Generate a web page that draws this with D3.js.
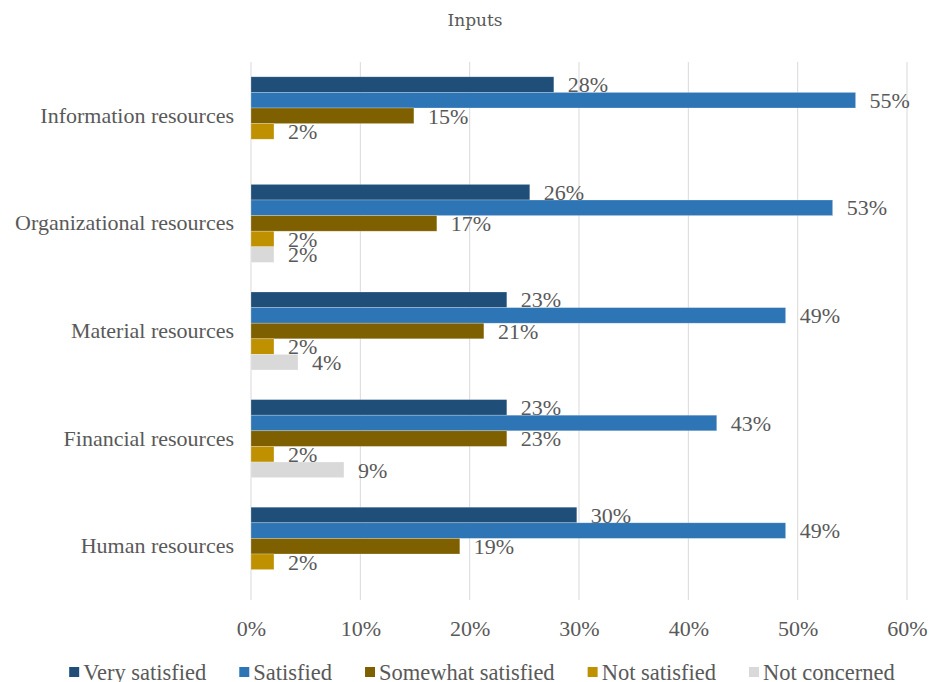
<!DOCTYPE html>
<html>
<head>
<meta charset="utf-8">
<script src="https://cdn.jsdelivr.net/npm/d3@7"></script>
<style>
  body { margin: 0; background: #fff; }
  svg text { font-family: "Liberation Serif", "Times New Roman", serif; fill: #595959; }
</style>
</head>
<body>
<div id="chart"></div>
<script>
const categories = ["Information resources", "Organizational resources", "Material resources", "Financial resources", "Human resources"]
const seriesNames = ["Very satisfied", "Satisfied", "Somewhat satisfied", "Not satisfied", "Not concerned"]
const colors = ["#1f4e79", "#2e75b6", "#7f6000", "#bf9000", "#d9d9d9"]

// values in percent, one array per series (category order as above)
const verySatisfied = [27.7, 25.5, 23.4, 23.4, 29.8]
const satisfied = [55.3, 53.2, 48.9, 42.6, 48.9]
const somewhatSatisfied = [14.9, 17.0, 21.3, 23.4, 19.1]
const notSatisfied = [2.1, 2.1, 2.1, 2.1, 2.1]
const notConcerned = [0, 2.1, 4.3, 8.5, 0]

const xTicks = [0, 10, 20, 30, 40, 50, 60]

const seriesValues = [verySatisfied, satisfied, somewhatSatisfied, notSatisfied, notConcerned]

const W = 932, H = 682
const plot = {left: 251, right: 907, top: 62, bottom: 600}

const svg = d3.select("#chart").append("svg")
    .attr("width", W)
    .attr("height", H)

const x = d3.scaleLinear()
    .domain([0, 60])
    .range([plot.left, plot.right])

const y = d3.scaleBand()
    .domain(categories)
    .range([plot.top, plot.bottom])
    .paddingInner(0.275)
    .paddingOuter(0.1375)

const ySub = d3.scaleBand()
    .domain(seriesNames)
    .range([0, y.bandwidth()])

// title
svg.append("text")
    .attr("x", 475)
    .attr("y", 26)
    .attr("text-anchor", "middle")
    .style("font-family", "'DejaVu Serif', serif")
    .style("font-size", "17px")
    .text("Inputs")

// gridlines
svg.append("g")
    .selectAll("line")
    .data(xTicks)
    .join("line")
    .attr("x1", d => x(d))
    .attr("x2", d => x(d))
    .attr("y1", plot.top)
    .attr("y2", plot.bottom)
    .attr("stroke", "#d9d9d9")
    .attr("stroke-width", 1)

// x axis labels
const xAxis = d3.axisBottom(x)
    .tickValues(xTicks)
    .tickFormat(d => d + "%")
    .tickSize(0)
    .tickPadding(0)

svg.append("g")
    .attr("transform", "translate(0," + 620 + ")")
    .call(xAxis)
    .call(g => g.select(".domain").remove())
    .selectAll("text")
    .style("font-size", "22px")
    .attr("fill", "#595959")

// y axis labels
const yAxis = d3.axisLeft(y).tickSize(0).tickPadding(0)
svg.append("g")
    .attr("transform", "translate(" + 234 + ",0)")
    .call(yAxis)
    .call(g => g.select(".domain").remove())
    .selectAll("text")
    .style("font-size", "22px")
    .attr("fill", "#595959")

// bars
const rows = []
categories.forEach((c, ci) => {
    seriesNames.forEach((s, si) => {
        rows.push({cat: c, series: s, value: seriesValues[si][ci], color: colors[si]})
    })
})

const groups = svg.append("g")

groups.selectAll("rect")
    .data(rows.filter(d => d.value > 0))
    .join("rect")
    .attr("x", x(0))
    .attr("y", d => y(d.cat) + ySub(d.series))
    .attr("width", d => x(d.value) - x(0))
    .attr("height", ySub.bandwidth())
    .attr("fill", d => d.color)
    .attr("stroke", "#fff")
    .attr("stroke-opacity", 0.4)
    .attr("stroke-width", 0.6)

groups.selectAll("text")
    .data(rows.filter(d => d.value > 0))
    .join("text")
    .attr("x", d => x(d.value) + 14)
    .attr("y", d => y(d.cat) + ySub(d.series) + ySub.bandwidth() / 2)
    .attr("dy", "0.35em")
    .style("font-size", "22px")
    .text(d => Math.round(d.value) + "%")

// legend
const legend = svg.append("g")
const items = legend.selectAll("g")
    .data(seriesNames)
    .join("g")

items.append("rect")
    .attr("width", 10)
    .attr("height", 10)
    .attr("y", -5)
    .attr("fill", (d, i) => colors[i])

items.append("text")
    .attr("x", 14)
    .attr("dy", "0.35em")
    .style("font-size", "22.5px")
    .text(d => d)

const gap = 33
const widths = items.nodes().map(n => n.getBBox().width)
const total = d3.sum(widths) + gap * (widths.length - 1)
let cx = 482 - total / 2
items.attr("transform", (d, i) => {
    const t = "translate(" + cx + "," + 672 + ")"
    cx += widths[i] + gap
    return t
})
</script>
</body>
</html>
